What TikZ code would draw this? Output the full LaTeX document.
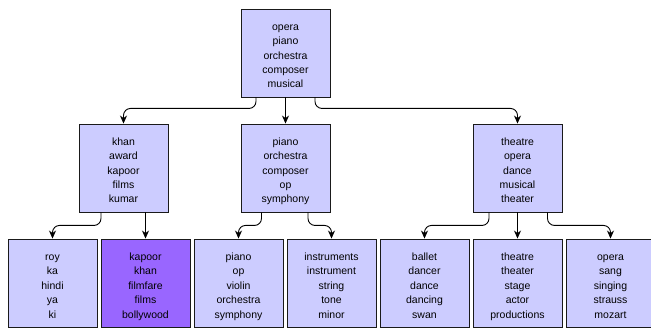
\documentclass[tikz,border=0pt]{standalone}
\usepackage{fontspec}
\setmainfont{Liberation Sans}
\usetikzlibrary{arrows.meta}
\definecolor{boxfill}{HTML}{CCCCFF}
\definecolor{hifill}{HTML}{9966FF}
\definecolor{boxline}{HTML}{1A1A1A}
\begin{document}
\begin{tikzpicture}[x=1pt,y=1pt,
  topic/.style={draw=boxline, line width=0.9pt, fill=boxfill, minimum width=89pt, minimum height=88pt,
    inner sep=0pt, align=center, font=\fontsize{10.5}{14.4}\selectfont,
    text height=70pt, text depth=0pt},
  hitopic/.style={topic, fill=hifill},
  edge/.style={draw=black, line width=0.9pt, rounded corners=7pt,
    -{Stealth[length=8pt,width=7pt,inset=2.5pt]}}]
\useasboundingbox (0,0) rectangle (651,327);

% root
\node[topic] (root) at (285.5,274) {opera\\piano\\orchestra\\composer\\musical};

% second level
\node[topic] (khan)    at (123.5,159) {khan\\award\\kapoor\\films\\kumar};
\node[topic] (pianoM)  at (285.5,159) {piano\\orchestra\\composer\\op\\symphony};
\node[topic] (theatreM) at (517.5,159) {theatre\\opera\\dance\\musical\\theater};

% leaves
\node[topic]   (roy)     at (52.5,44)  {roy\\ka\\hindi\\ya\\ki};
\node[hitopic] (kapoor)  at (145.5,44) {kapoor\\khan\\filmfare\\films\\bollywood};
\node[topic]   (pianoL)  at (238.5,44) {piano\\op\\violin\\orchestra\\symphony};
\node[topic]   (instr)   at (331.5,44) {instruments\\instrument\\string\\tone\\minor};
\node[topic]   (ballet)  at (424.5,44) {ballet\\dancer\\dance\\dancing\\swan};
\node[topic]   (theatreL) at (517.5,44) {theatre\\theater\\stage\\actor\\productions};
\node[topic]   (operaL)  at (610.5,44) {opera\\sang\\singing\\strauss\\mozart};

% exit points on the lower edges
\coordinate (r1) at ([xshift=-29.5pt]root.south);
\coordinate (r3) at ([xshift=29.5pt]root.south);
\coordinate (k1) at ([xshift=-22.5pt]khan.south);
\coordinate (p1) at ([xshift=-24pt]pianoM.south);
\coordinate (p2) at ([xshift=22.5pt]pianoM.south);
\coordinate (t1) at ([xshift=-28.5pt]theatreM.south);
\coordinate (t3) at ([xshift=30pt]theatreM.south);

% root to second level
\draw[edge] (r1) -- ++(0,-11) -| (khan.north);
\draw[edge] (root.south) -- (pianoM.north);
\draw[edge] (r3) -- ++(0,-11) -| (theatreM.north);

% second level to leaves
\draw[edge] (k1) -- ++(0,-13) -| (roy.north);
\draw[edge] (khan.south -| kapoor.north) -- (kapoor.north);
\draw[edge] (p1) -- ++(0,-13) -| (pianoL.north);
\draw[edge] (p2) -- ++(0,-13) -| (instr.north);
\draw[edge] (t1) -- ++(0,-13) -| (ballet.north);
\draw[edge] (theatreM.south) -- (theatreL.north);
\draw[edge] (t3) -- ++(0,-13) -| (operaL.north);
\end{tikzpicture}
\end{document}
